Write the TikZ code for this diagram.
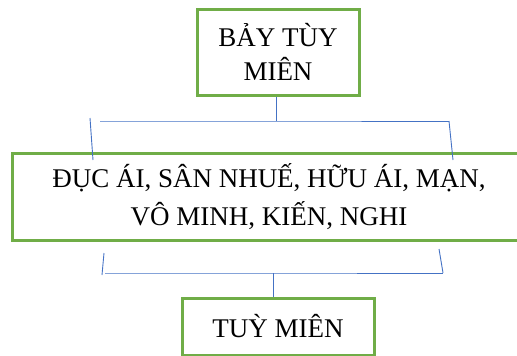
\documentclass[tikz,border=0pt]{standalone}
\usepackage{fontspec}
\setmainfont{Liberation Serif}
\definecolor{boxgreen}{HTML}{70AD47}
\definecolor{lineblue}{HTML}{4472C4}
\begin{document}
\begin{tikzpicture}[x=1pt,y=-1pt,
  greenbox/.style={draw=boxgreen, line width=3pt, rectangle, inner sep=0pt, align=center, text=black},
  blueline/.style={draw=lineblue, line width=0.9pt}]
\useasboundingbox (0,0) rectangle (517,356);
% boxes
\node[greenbox, minimum width=162pt, minimum height=86pt, font=\fontsize{27}{34}\selectfont] (top) at (278,52) {BẢY TÙY\\MIÊN};
\node[greenbox, minimum width=514pt, minimum height=87pt, font=\fontsize{27}{38}\selectfont] (mid) at (269,197) {ĐỤC ÁI, SÂN NHUẾ, HỮU ÁI, MẠN,\\VÔ MINH, KIẾN, NGHI};
\node[greenbox, minimum width=192pt, minimum height=57pt, font=\fontsize{27}{34}\selectfont] (bot) at (278,326.5) {TUỲ MIÊN};
% upper connector
\coordinate (tj) at (276,121);
\coordinate (tl) at (100,121);
\coordinate (tr) at (449,121);
\coordinate (la) at (90,118);
\coordinate (lb) at (93,160);
\coordinate (rb) at (453,160);
\draw[blueline] (top.south -| tj) -- (tj);
\draw[blueline] (tl) -- (tj) -- (tr);
\draw[blueline] (la) -- (lb);
\draw[blueline] (tr) -- (rb);
% lower connector
\coordinate (bj) at (273,273);
\coordinate (bl) at (105,273);
\coordinate (br) at (443,273);
\coordinate (bla) at (104,253);
\coordinate (blb) at (102,275);
\coordinate (bra) at (439,249);
\draw[blueline] (bla) -- (blb);
\draw[blueline] (bl) -- (bj) -- (br);
\draw[blueline] (bra) -- (br);
\draw[blueline] (bj) -- (bot.north -| bj);
\end{tikzpicture}
\end{document}
